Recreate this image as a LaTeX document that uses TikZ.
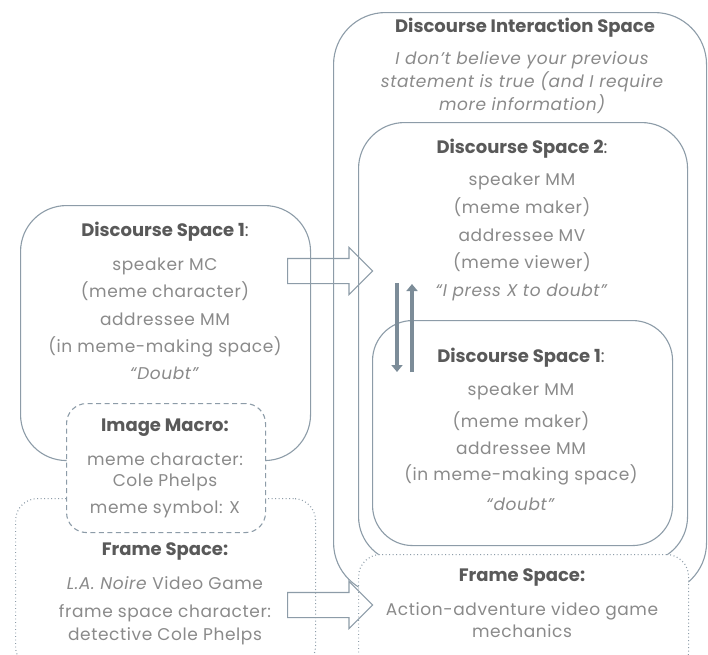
\documentclass[tikz,border=0pt]{standalone}
\usepackage{fontspec}
\setmainfont{Poppins}
\newfontfamily\bodyfont[LetterSpace=3.5]{Poppins}
\usetikzlibrary{shapes.arrows,arrows.meta}
\definecolor{edge}{HTML}{8D9CA8}
\definecolor{barc}{HTML}{7C8C98}
\definecolor{headc}{HTML}{595959}
\definecolor{bodyc}{HTML}{8A8A8A}
\tikzset{
  box/.style={draw=edge, line width=1.1pt, fill=white, rectangle, anchor=north west, inner sep=0pt},
  dotbox/.style={box, dash pattern=on 0.9pt off 2.6pt},
  dashbox/.style={box, dash pattern=on 5pt off 3.5pt},
  head/.style={font=\fontsize{18}{20}\selectfont\bfseries, text=headc, inner sep=0pt, anchor=base},
  body/.style={font=\bodyfont\fontsize{17}{20}\selectfont, text=bodyc, inner sep=0pt, anchor=base},
  blockarrow/.style={single arrow, draw=edge, line width=1.1pt, fill=none, inner sep=0pt,
     minimum height=85pt, single arrow head extend=11pt, anchor=tail},
  bar/.style={draw=barc, line width=4.5pt, -{Triangle[length=7pt,width=11pt]}},
}
\begin{document}
\begin{tikzpicture}[x=1pt,y=-1pt]
\useasboundingbox (0,0) rectangle (708,654);
\clip (0,0) rectangle (708,654);
% right side
\node[box, rounded corners=52pt, minimum width=373pt, minimum height=582pt] (dis) at (333,12) {};
\node[box, rounded corners=46pt, minimum width=329pt, minimum height=440pt] (ds2) at (358,122) {};
\node[box, rounded corners=40pt, minimum width=300pt, minimum height=225pt] (ds1r) at (372,320) {};
\node[dotbox, rounded corners=22pt, minimum width=330pt, minimum height=120pt] (fsr) at (358,554) {};
% left side
\node[box, rounded corners=46pt, minimum width=290pt, minimum height=255pt] (ds1l) at (20,205) {};
\node[dotbox, rounded corners=22pt, minimum width=300pt, minimum height=170pt] (fsl) at (15,498) {};
\node[dashbox, rounded corners=20pt, minimum width=199pt, minimum height=129pt] (im) at (66,403) {};

% Discourse Interaction Space
\node[head] (dish) at (525,32) {Discourse Interaction Space};
\foreach \y/\t [count=\i] in {64/I don’t believe your previous, 87/statement is true (and I require, 110/more information)}
  \node[body, font=\bodyfont\fontsize{17}{20}\selectfont\itshape] (dis-\i) at (522,\y) {\t};
% DS2
\node[head] (ds2h) at (522,153) {Discourse Space 2\mdseries:};
\foreach \y/\t [count=\i] in {185/speaker MM, 213/(meme maker), 241/addressee MV, 268/(meme viewer), 296/\textit{“I press X to doubt”}}
  \node[body] (ds2-\i) at (522,\y) {\t};
% DS1 right
\node[head] (ds1rh) at (521,362) {Discourse Space 1\mdseries:};
\foreach \y/\t [count=\i] in {395/speaker MM, 427/(meme maker), 454/addressee MM, 480/(in meme-making space), 510/\textit{“doubt”}}
  \node[body] (ds1r-\i) at (521,\y) {\t};
% Frame right
\node[head] (fsrh) at (522,581) {Frame Space:};
\foreach \y/\t [count=\i] in {615/Action-adventure video game, 637/mechanics}
  \node[body] (fsr-\i) at (522,\y) {\t};
% DS1 left
\node[head] (ds1lh) at (165,236) {Discourse Space 1\mdseries:};
\foreach \y/\t [count=\i] in {270/speaker MC, 297/(meme character), 325/addressee MM, 352/(in meme-making space), 379/\textit{“Doubt”}}
  \node[body] (ds1l-\i) at (165,\y) {\t};
% Image macro
\node[head] (imh) at (165,431) {Image Macro:};
\foreach \y/\t [count=\i] in {465/meme character:, 486/Cole Phelps, 513/meme symbol: X}
  \node[body] (im-\i) at (165,\y) {\t};
% Frame left
\node[head] (fslh) at (165,555) {Frame Space:};
\foreach \y/\t [count=\i] in {589/\textit{L.A. Noire} Video Game, 617/frame space character:, 640/detective Cole Phelps}
  \node[body] (fsl-\i) at (165,\y) {\t};

% block arrows
\node[blockarrow] (a1) at (287,271) {\rule{0pt}{24pt}};
\node[blockarrow] (a2) at (287,605) {\rule{0pt}{24pt}};
% vertical arrows
\coordinate (d1) at (397,283);
\coordinate (d2) at (397,372);
\coordinate (u1) at (412,372);
\coordinate (u2) at (412,284);
\draw[bar] (d1) -- (d2);
\draw[bar, line width=3.5pt] (u1) -- (u2);
\end{tikzpicture}
\end{document}
